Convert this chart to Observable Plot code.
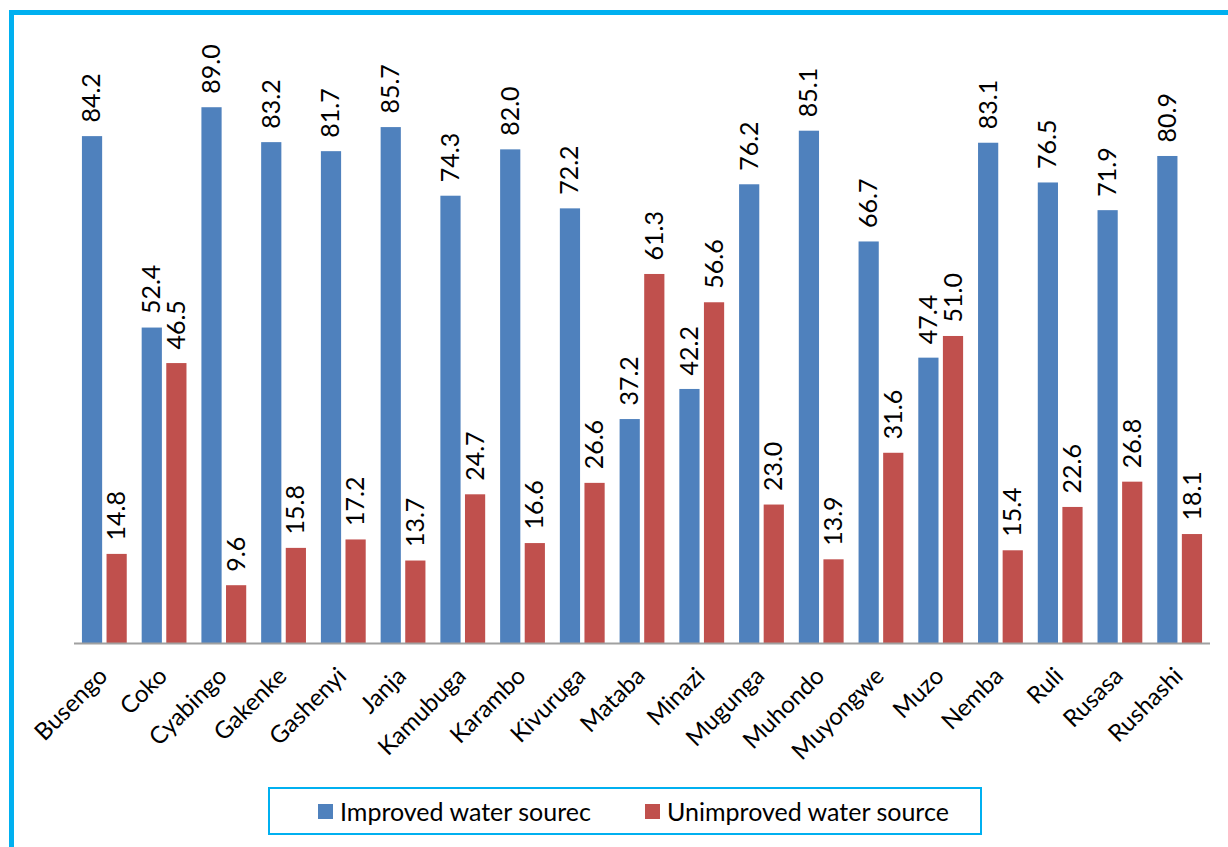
<!DOCTYPE html>
<html><head><meta charset="utf-8">
<script src="https://cdn.jsdelivr.net/npm/d3@7"></script>
<script src="https://cdn.jsdelivr.net/npm/@observablehq/plot@0.6"></script>
<style>
html,body{margin:0;padding:0;background:#fff;overflow:hidden;width:1228px;height:847px;}
#chart{position:absolute;left:0;top:0;}
#frame{position:absolute;left:9px;top:10px;width:1300px;height:900px;border:5px solid #00B0F0;box-sizing:border-box;pointer-events:none;z-index:2;}
#legend{position:absolute;left:268px;top:787px;width:714px;height:48px;border:2px solid #00B0F0;box-sizing:border-box;font-family:Lato,sans-serif;font-size:25px;color:#000;}
.item{position:absolute;top:0;height:44px;display:flex;align-items:center;}
.sw{width:15px;height:15px;margin-right:7px;}
</style>
</head><body>
<div id="chart"></div>
<div id="frame"></div>
<div id="legend"></div>
<script>
const categories = ["Busengo","Coko","Cyabingo","Gakenke","Gashenyi","Janja","Kamubuga","Karambo","Kivuruga","Mataba","Minazi","Mugunga","Muhondo","Muyongwe","Muzo","Nemba","Ruli","Rusasa","Rushashi"];
const improved = [84.2,52.4,89.0,83.2,81.7,85.7,74.3,82.0,72.2,37.2,42.2,76.2,85.1,66.7,47.4,83.1,76.5,71.9,80.9];
const unimproved = [14.8,46.5,9.6,15.8,17.2,13.7,24.7,16.6,26.6,61.3,56.6,23.0,13.9,31.6,51.0,15.4,22.6,26.8,18.1];
const seriesNames = ["Improved water sourec","Unimproved water source"];
const seriesColors = ["#4F81BD","#C0504D"];

const impData = categories.map((c,i)=>({cat:c, value:improved[i]}));
const unData = categories.map((c,i)=>({cat:c, value:unimproved[i]}));

const font = "Lato, sans-serif";
const plot = Plot.plot({
  width:1228, height:780,
  marginLeft:67, marginRight:11, marginTop:41, marginBottom:137,
  style:{background:"transparent", fontFamily:font},
  x:{domain:categories, padding:0.25, round:false, axis:null},
  y:{domain:[0,100], axis:null},
  marks:[
    Plot.barY(impData,{x:"cat", y:"value", fill:seriesColors[0], insetRight:24.6}),
    Plot.barY(unData,{x:"cat", y:"value", fill:seriesColors[1], insetLeft:24.6}),
    Plot.ruleY([0],{stroke:"#a0a0a0", strokeWidth:2, insetLeft:7, insetRight:7}),
    Plot.text(impData,{x:"cat", y:"value", text:d=>d.value.toFixed(1), rotate:-90, textAnchor:"start", lineAnchor:"middle", dx:-12.4, dy:-14, fontSize:25, fill:"#000"}),
    Plot.text(unData,{x:"cat", y:"value", text:d=>d.value.toFixed(1), rotate:-90, textAnchor:"start", lineAnchor:"middle", dx:12.4, dy:-14, fontSize:25, fill:"#000"}),
    Plot.text(categories,{x:d=>d, y:()=>0, text:d=>d, rotate:-45, textAnchor:"end", lineAnchor:"top", dx:-8, dy:22, fontSize:24, fill:"#000"})
  ]
});
document.getElementById("chart").appendChild(plot);

const legend = document.getElementById("legend");
const lefts = [48, 375];
seriesNames.forEach((n,i)=>{
  const it = document.createElement("div");
  it.className = "item";
  it.style.left = lefts[i] + "px";
  const sw = document.createElement("div");
  sw.className = "sw";
  sw.style.background = seriesColors[i];
  const t = document.createElement("span");
  t.textContent = n;
  it.appendChild(sw); it.appendChild(t);
  legend.appendChild(it);
});
</script>
</body></html>
